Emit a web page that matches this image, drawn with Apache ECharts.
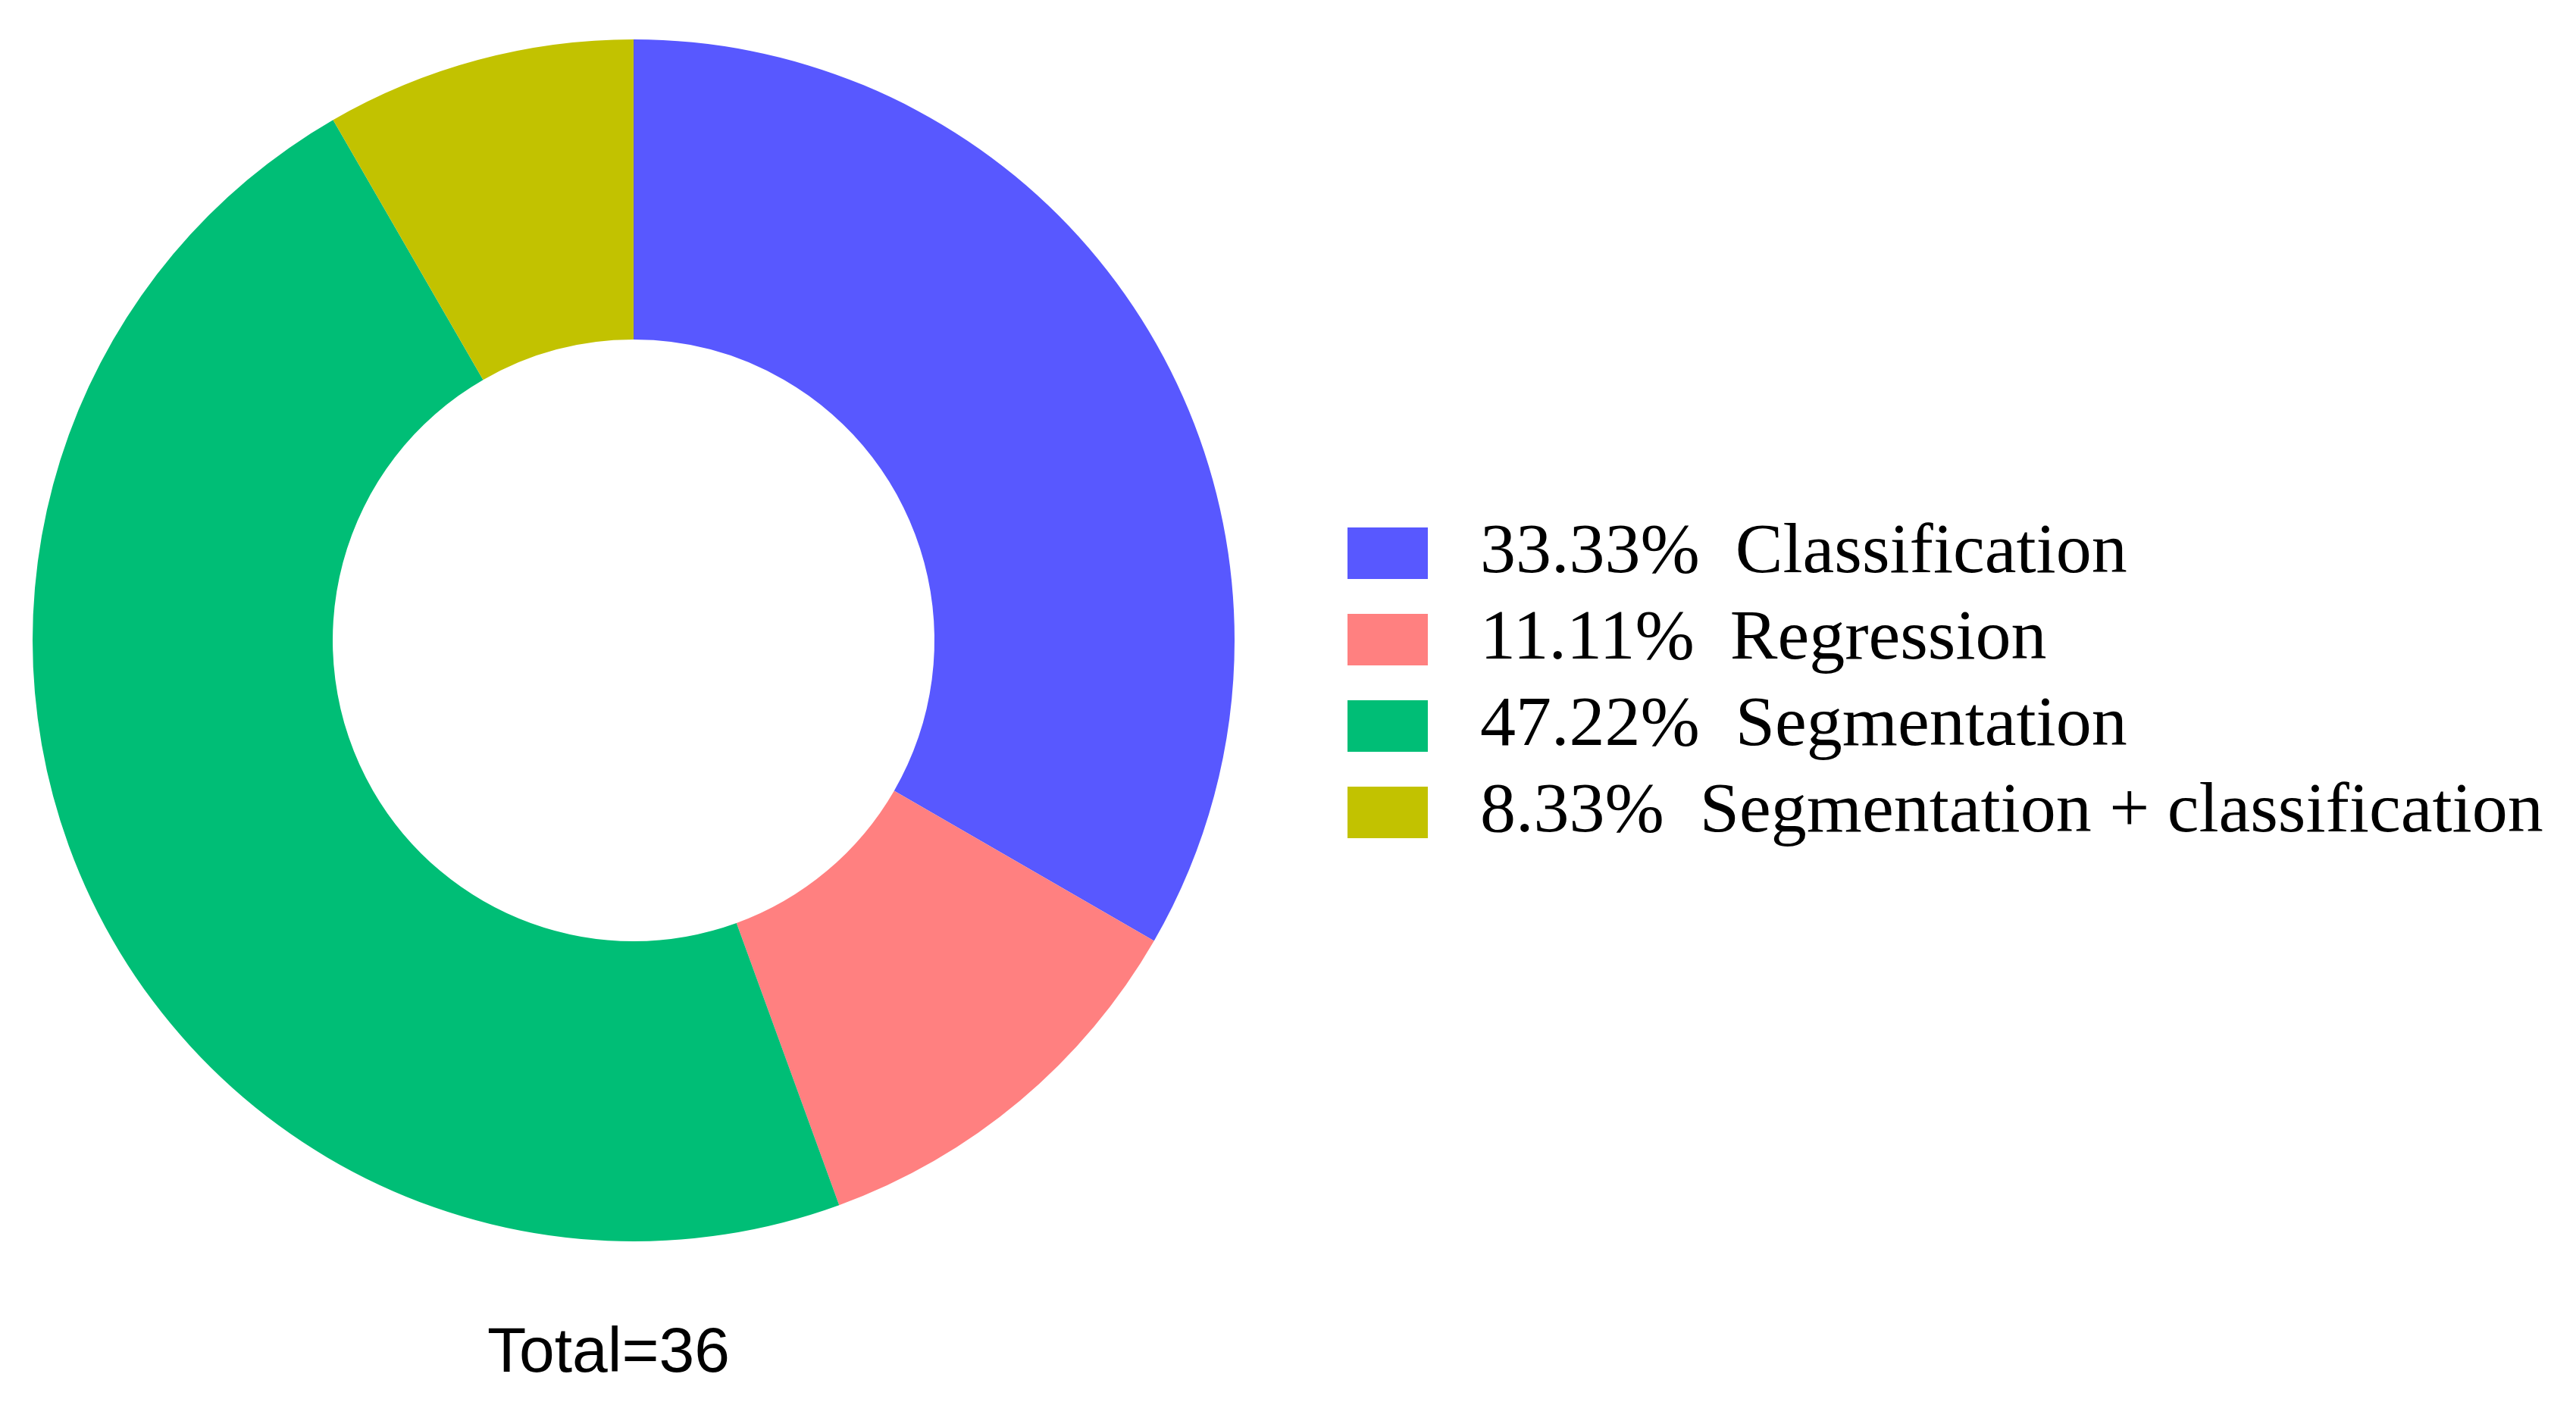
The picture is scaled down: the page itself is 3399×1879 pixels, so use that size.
<!DOCTYPE html>
<html>
<head>
<meta charset="utf-8">
<script src="https://cdn.jsdelivr.net/npm/echarts@6/dist/echarts.min.js"></script>
<style>html,body{margin:0;padding:0;background:#fff;}#c{width:3399px;height:1879px;}</style>
</head>
<body>
<div id="c"></div>
<script>
const categories = ['Classification', 'Regression', 'Segmentation', 'Segmentation + classification'];
const counts = [12, 4, 17, 3];
const colors = ['#5858FF', '#FF8080', '#00BE76', '#C2C200'];
const totalLabel = 'Total=36';

const total = counts.reduce((a, b) => a + b, 0);
const pct = {};
categories.forEach((c, i) => { pct[c] = (counts[i] / total * 100).toFixed(2) + '%'; });

const chart = echarts.init(document.getElementById('c'), null, {renderer: 'canvas'});
chart.setOption({
  animation: false,
  backgroundColor: '#ffffff',
  color: colors,
  legend: {
    orient: 'vertical',
    left: 1778,
    top: 683,
    padding: 0,
    itemWidth: 106,
    itemHeight: 68,
    itemGap: 20,
    icon: 'rect',
    selectedMode: false,
    data: categories,
    formatter: name => pct[name] + '  ' + name,
    textStyle: {
      fontFamily: 'Liberation Serif',
      fontSize: 94,
      color: '#000',
      lineHeight: 68,
      padding: [14, 0, 0, 64]
    }
  },
  graphic: [{
    type: 'text',
    left: 643,
    top: 1745,
    style: {
      text: totalLabel,
      font: '84px "Liberation Sans"',
      fill: '#000'
    }
  }],
  series: [{
    type: 'pie',
    center: [836, 845],
    radius: [397, 793],
    startAngle: 90,
    clockwise: true,
    silent: true,
    label: {show: false},
    labelLine: {show: false},
    itemStyle: {borderWidth: 0},
    data: categories.map((c, i) => ({name: c, value: counts[i]}))
  }]
});
</script>
</body>
</html>
